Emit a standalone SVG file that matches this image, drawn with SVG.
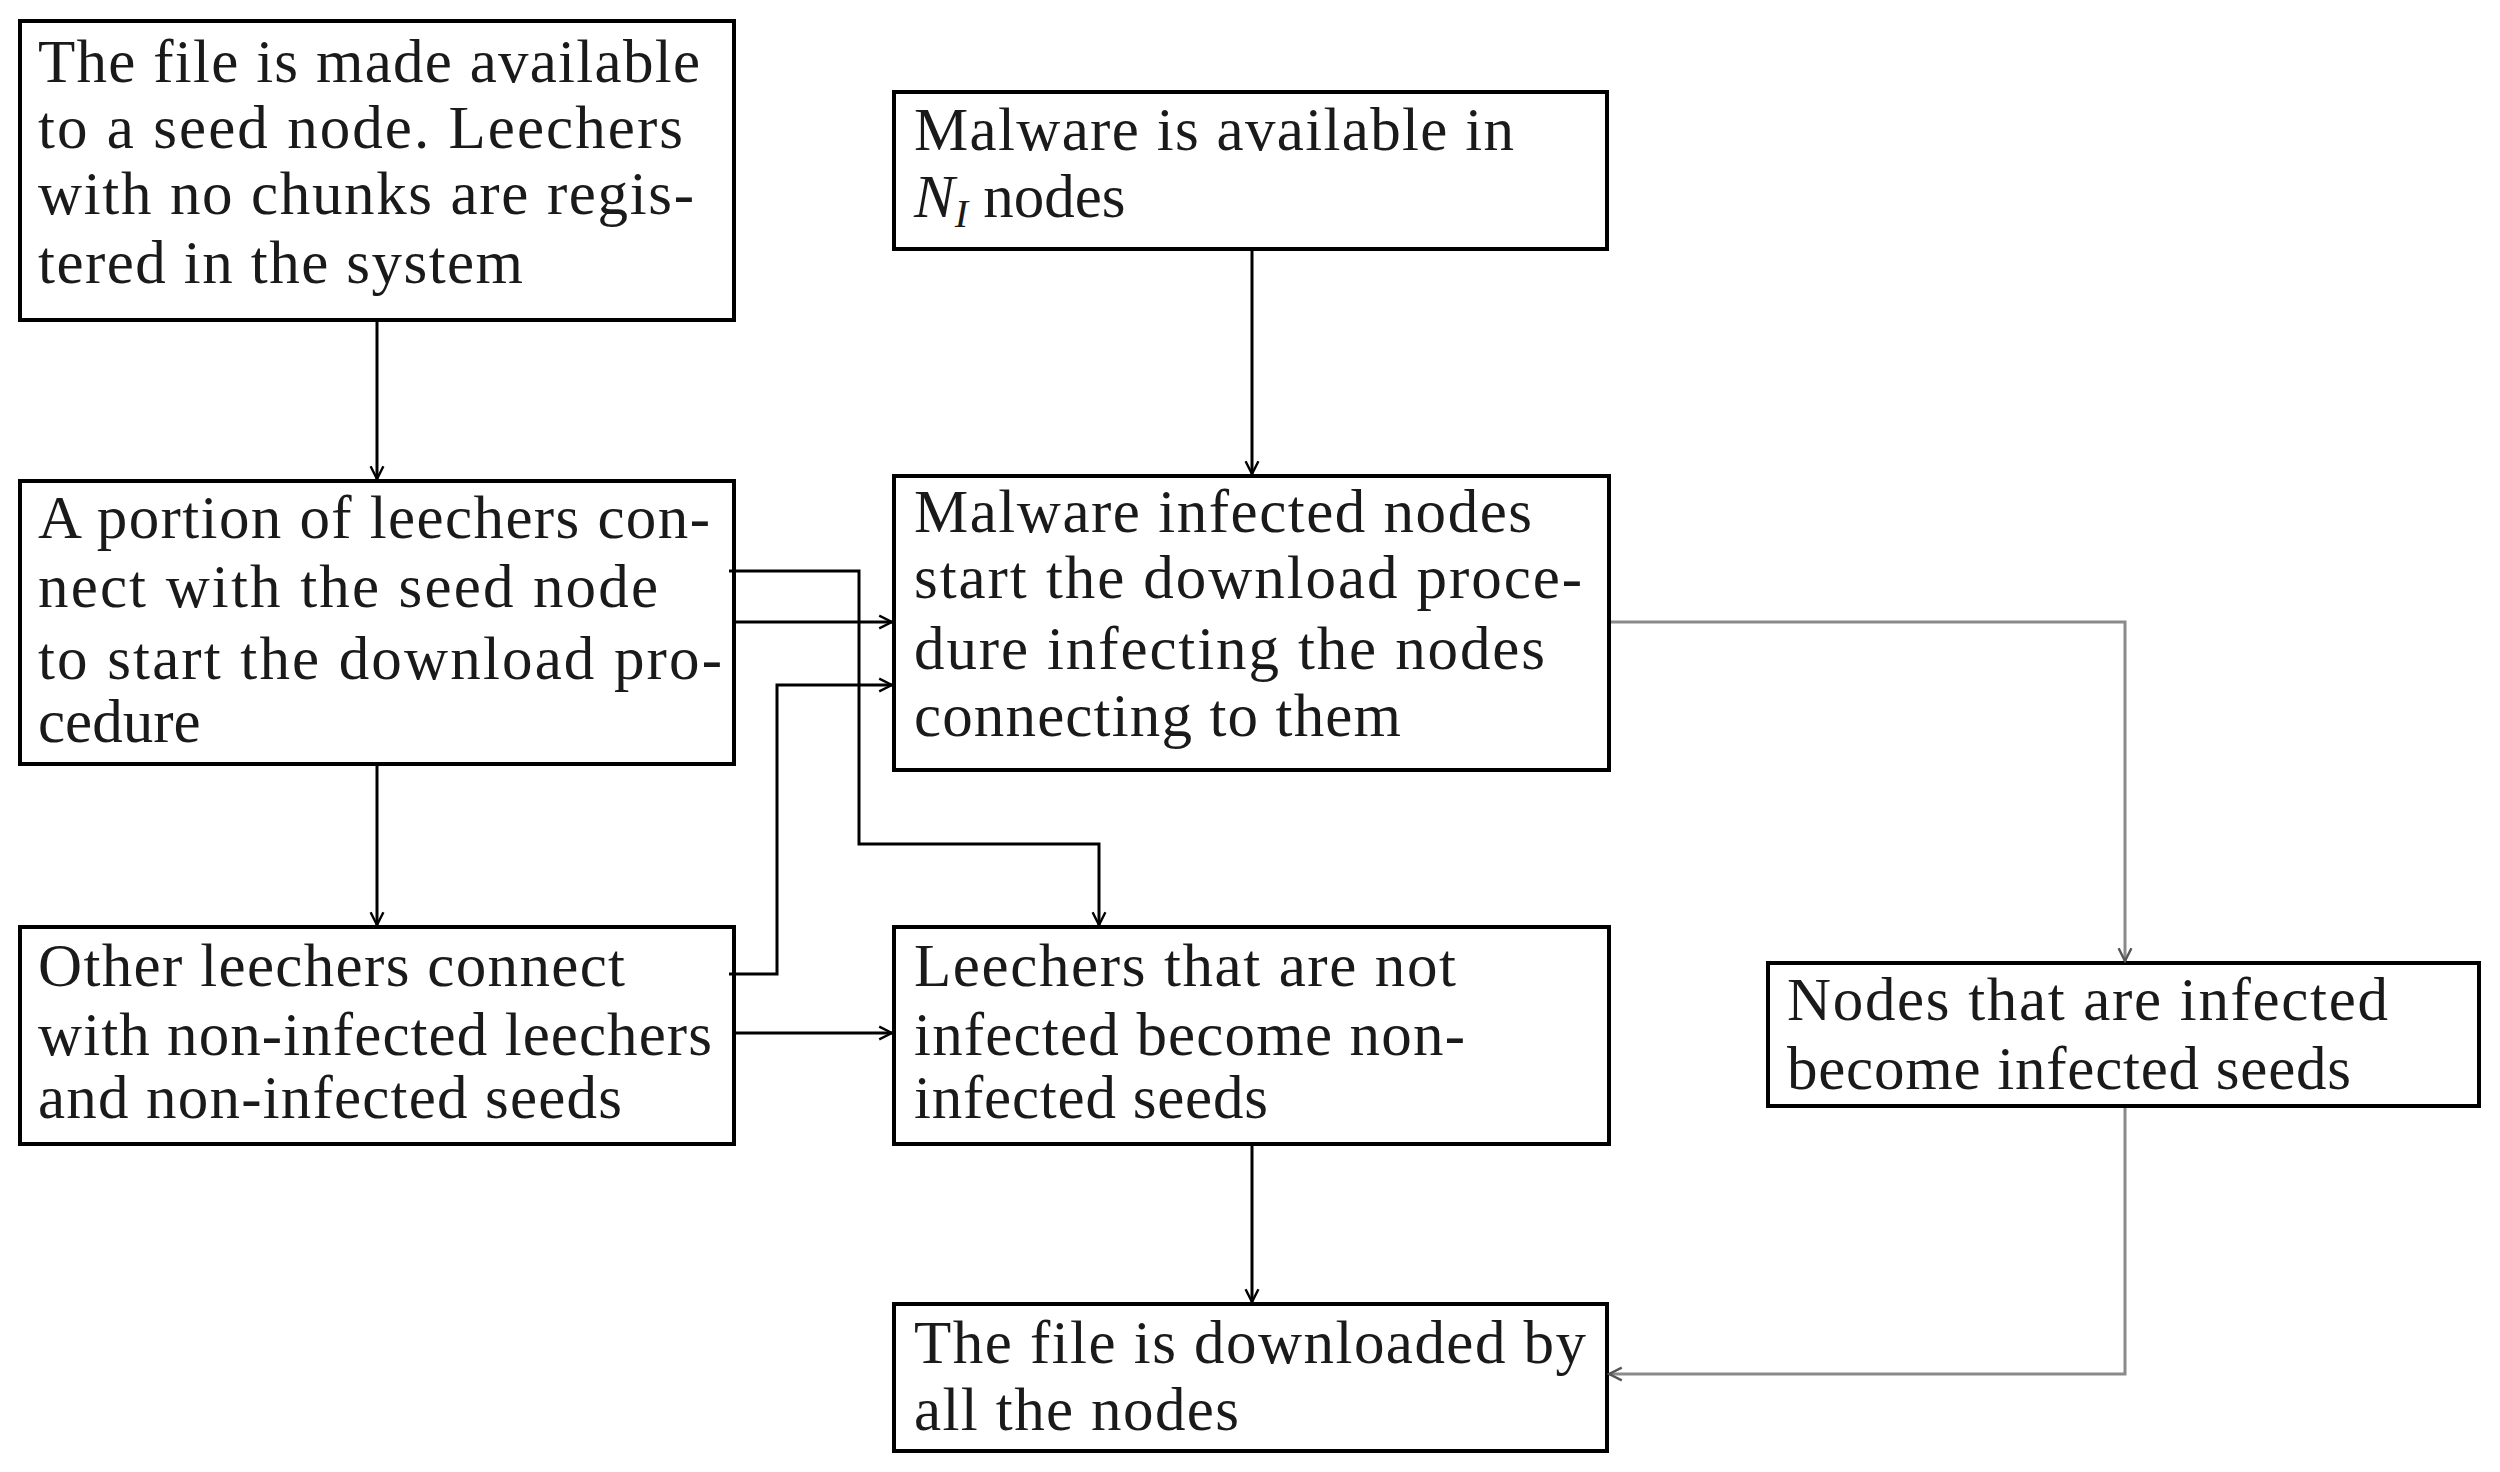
<svg xmlns="http://www.w3.org/2000/svg" width="2500" height="1472" viewBox="0 0 2500 1472">
<defs>
<style>
.box{fill:#fff;stroke:#000;stroke-width:4}
.t{font-family:"Liberation Serif","DejaVu Serif",serif;font-size:61px;fill:#1a1a1a}
.c{fill:none;stroke:#000;stroke-width:3}
.g{fill:none;stroke:#8a8a8a;stroke-width:3}
</style>
<marker id="a" viewBox="0 0 10 10" refX="9" refY="5" markerWidth="16" markerHeight="16" orient="auto" markerUnits="userSpaceOnUse">
<path d="M1,1 L9,5 L1,9" fill="none" stroke="#000" stroke-width="1.5"/>
</marker>
<marker id="ag" viewBox="0 0 10 10" refX="9" refY="5" markerWidth="16" markerHeight="16" orient="auto" markerUnits="userSpaceOnUse">
<path d="M1,1 L9,5 L1,9" fill="none" stroke="#555" stroke-width="1.5"/>
</marker>
</defs>
<rect width="2500" height="1472" fill="#fff"/>
<g id="n1">
<rect class="box" x="20" y="21" width="714" height="299"/>
<text class="t"><tspan x="38" y="82" textLength="662">The file is made available</tspan><tspan x="38" y="148" textLength="645">to a seed node.  Leechers</tspan><tspan x="38" y="214" textLength="656">with no chunks are regis-</tspan><tspan x="38" y="283" textLength="485">tered in the system</tspan></text>
</g>
<g id="n2">
<rect class="box" x="20" y="481" width="714" height="283"/>
<text class="t"><tspan x="38" y="538" textLength="672">A portion of leechers con-</tspan><tspan x="38" y="607" textLength="620">nect with the seed node</tspan><tspan x="38" y="679" textLength="684">to start the download pro-</tspan><tspan x="38" y="742">cedure</tspan></text>
</g>
<g id="n3">
<rect class="box" x="20" y="927" width="714" height="217"/>
<text class="t"><tspan x="38" y="986" textLength="587">Other leechers connect</tspan><tspan x="38" y="1055" textLength="674">with non-infected leechers</tspan><tspan x="38" y="1118" textLength="584">and non-infected seeds</tspan></text>
</g>
<g id="n4">
<rect class="box" x="894" y="92" width="713" height="157"/>
<text class="t"><tspan x="914" y="150" textLength="600">Malware is available in</tspan><tspan x="914" y="217" font-style="italic">N</tspan><tspan font-style="italic" font-size="40" dy="10">I</tspan><tspan dy="-10">  nodes</tspan></text>
</g>
<g id="n5">
<rect class="box" x="894" y="476" width="715" height="294"/>
<text class="t"><tspan x="914" y="532" textLength="618">Malware infected nodes</tspan><tspan x="914" y="598" textLength="668">start the download proce-</tspan><tspan x="914" y="669" textLength="631">dure infecting the nodes</tspan><tspan x="914" y="736" textLength="487">connecting to them</tspan></text>
</g>
<g id="n6">
<rect class="box" x="894" y="927" width="715" height="217"/>
<text class="t"><tspan x="914" y="986" textLength="542">Leechers that are not</tspan><tspan x="914" y="1055" textLength="551">infected become non-</tspan><tspan x="914" y="1118" textLength="354">infected seeds</tspan></text>
</g>
<g id="n7">
<rect class="box" x="1768" y="963" width="711" height="143"/>
<text class="t"><tspan x="1787" y="1020" textLength="601">Nodes that are infected</tspan><tspan x="1787" y="1089" textLength="564">become infected seeds</tspan></text>
</g>
<g id="n8">
<rect class="box" x="894" y="1304" width="713" height="147"/>
<text class="t"><tspan x="914" y="1363" textLength="672">The file is downloaded by</tspan><tspan x="914" y="1430" textLength="325">all the nodes</tspan></text>
</g>
<g id="connectors">
<path class="c" d="M377,322 V479" marker-end="url(#a)"/>
<path class="c" d="M1252,251 V474" marker-end="url(#a)"/>
<path class="c" d="M377,766 V925" marker-end="url(#a)"/>
<path class="c" d="M729,571 H859 V844 H1099 V925" marker-end="url(#a)"/>
<path class="c" d="M736,622 H892" marker-end="url(#a)"/>
<path class="c" d="M729,974 H777 V685 H892" marker-end="url(#a)"/>
<path class="c" d="M736,1033 H892" marker-end="url(#a)"/>
<path class="g" d="M1611,622 H2125 V961" marker-end="url(#ag)"/>
<path class="g" d="M2125,1108 V1374 H1609" marker-end="url(#ag)"/>
<path class="c" d="M1252,1146 V1302" marker-end="url(#a)"/>
</g>
</svg>
